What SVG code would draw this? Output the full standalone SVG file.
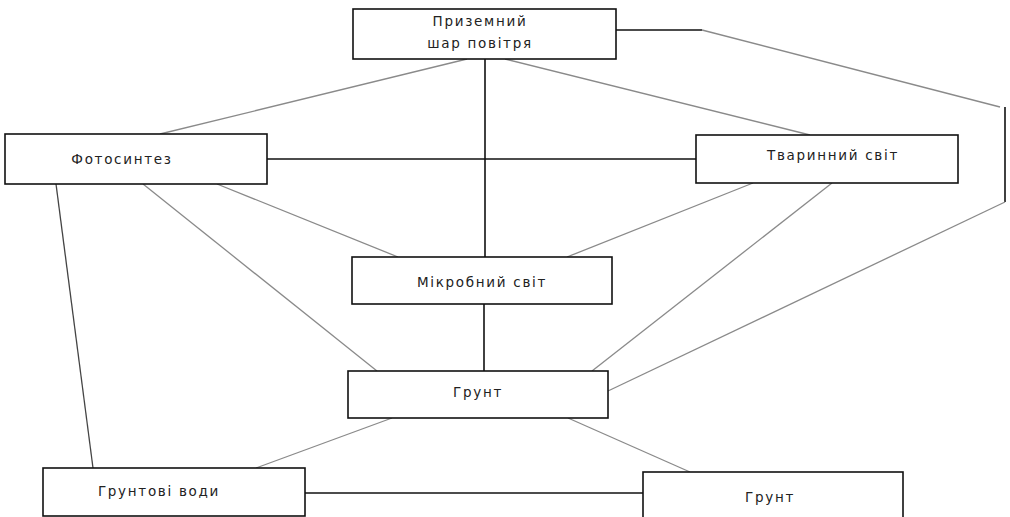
<svg xmlns="http://www.w3.org/2000/svg" width="1010" height="517" viewBox="0 0 1010 517">
<style>
.box{fill:#fff;stroke:#111;stroke-width:1.6}
.t{font-family:"DejaVu Sans",sans-serif;font-size:13.5px;letter-spacing:1.7px;fill:#222;text-anchor:middle}
.k{stroke:#111;stroke-width:1.6;fill:none}
.g{stroke:#8a8a8a;stroke-width:1.3;fill:none}
</style>
<rect width="1010" height="517" fill="#fff"/>
<g id="connectors">
<line class="g" x1="467" y1="59" x2="160" y2="134"/>
<line class="g" x1="505" y1="59" x2="810" y2="135"/>
<line class="k" x1="485" y1="59" x2="485" y2="257"/>
<polyline class="k" points="616,30 702,30"/>
<line class="g" x1="702" y1="30" x2="1000" y2="107"/>
<line class="k" x1="1005" y1="107" x2="1005" y2="202"/>
<line class="g" x1="1005" y1="202" x2="608" y2="391"/>
<line class="k" x1="267" y1="159" x2="696" y2="159"/>
<line class="g" x1="217" y1="184" x2="398" y2="257"/>
<line class="g" x1="143" y1="184" x2="377" y2="371"/>
<line class="k" x1="56" y1="184" x2="93" y2="468" style="stroke:#444;stroke-width:1.3"/>
<line class="g" x1="753" y1="183" x2="567" y2="257"/>
<line class="g" x1="832" y1="183" x2="592" y2="371"/>
<line class="k" x1="484" y1="304" x2="484" y2="371"/>
<line class="g" x1="392" y1="418" x2="256" y2="468"/>
<line class="g" x1="568" y1="418" x2="690" y2="472"/>
<line class="k" x1="305" y1="493" x2="643" y2="493"/>
</g>
<g id="node-air">
<rect class="box" x="353" y="9" width="263" height="50"/>
<text class="t" x="480" y="26">Приземний</text>
<text class="t" x="480" y="48">шар повітря</text>
</g>
<g id="node-photosynthesis">
<rect class="box" x="5" y="134" width="262" height="50"/>
<text class="t" x="122" y="164">Фотосинтез</text>
</g>
<g id="node-animals">
<rect class="box" x="696" y="135" width="262" height="48"/>
<text class="t" x="833" y="160">Тваринний світ</text>
</g>
<g id="node-microbes">
<rect class="box" x="352" y="257" width="260" height="47"/>
<text class="t" x="482" y="287">Мікробний світ</text>
</g>
<g id="node-soil">
<rect class="box" x="348" y="371" width="260" height="47"/>
<text class="t" x="478" y="397">Грунт</text>
</g>
<g id="node-groundwater">
<rect class="box" x="43" y="468" width="262" height="48"/>
<text class="t" x="159" y="496">Грунтові води</text>
</g>
<g id="node-soil2">
<rect class="box" x="643" y="472" width="260" height="50"/>
<text class="t" x="770" y="502">Грунт</text>
</g>
</svg>
